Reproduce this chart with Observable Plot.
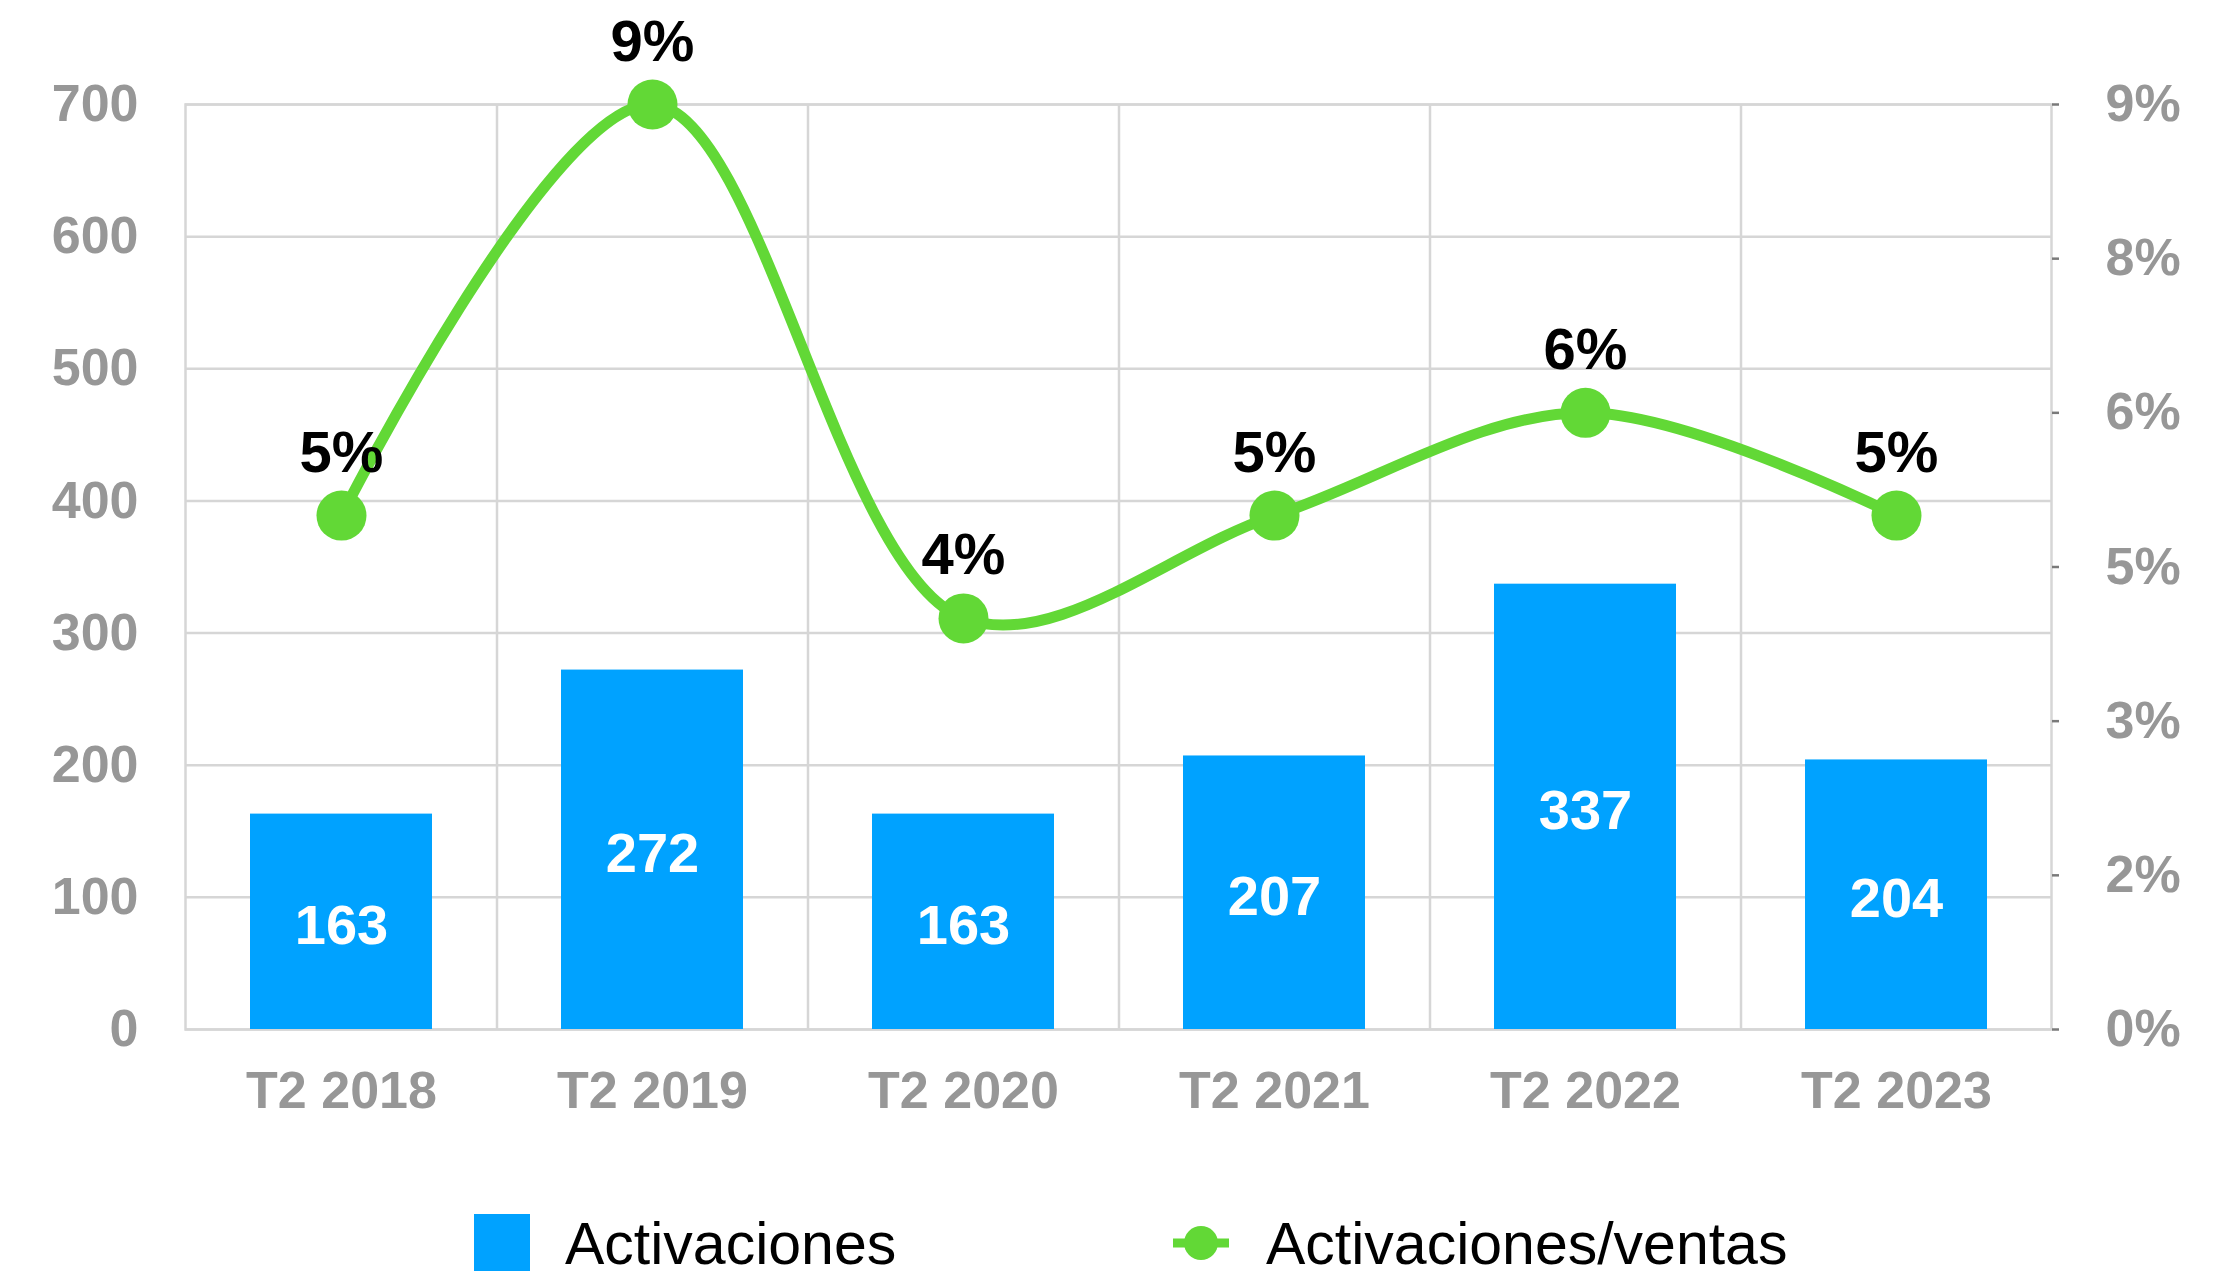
<!DOCTYPE html>
<html>
<head>
<meta charset="utf-8">
<script src="https://cdn.jsdelivr.net/npm/d3@7"></script>
<script src="https://cdn.jsdelivr.net/npm/@observablehq/plot@0.6"></script>
<style>
  html, body { margin: 0; padding: 0; background: #fff; overflow: hidden; }
  body { width: 2240px; height: 1271px; font-family: "Liberation Sans", Arial, Helvetica, sans-serif; position: relative; }
  #legend { position: relative; height: 91px; margin-top: 34px; }
  .item { display: flex; align-items: flex-start; position: absolute; top: 0; }
  .lbl { font-size: 59px; line-height: 59px; color: #000; margin-top: 1px; white-space: nowrap; }
</style>
</head>
<body>
<div id="chart"></div>
<div id="legend"></div>
<script>
// ---- data ----
const categories = ["T2 2018", "T2 2019", "T2 2020", "T2 2021", "T2 2022", "T2 2023"];
const activaciones = [163, 272, 163, 207, 337, 204];
const ratioPct = [5, 9, 4, 5, 6, 5];            // Activaciones/ventas, %
const leftTicks = [0, 100, 200, 300, 400, 500, 600, 700];
const rightTicks = [0, 1.5, 3, 4.5, 6, 7.5, 9]; // % values
const rightTickLabels = ["0%", "2%", "3%", "5%", "6%", "8%", "9%"];
const seriesNames = ["Activaciones", "Activaciones/ventas"];

const leftMax = 700, rightMax = 9;
const toLeft = p => p * leftMax / rightMax;

const BLUE = "#00a2ff", GREEN = "#62d836", GRID = "#d6d6d6", AXIS = "#979797";

const data = categories.map((c, i) => ({cat: c, act: activaciones[i], ratio: ratioPct[i]}));

const W = 2240, H = 1180;
const mL = 185, mR = 189, mT = 104, mB = 151;
const step = (W - mL - mR) / categories.length;

const chart = Plot.plot({
  width: W, height: H,
  marginLeft: mL, marginRight: mR, marginTop: mT, marginBottom: mB,
  style: {fontFamily: '"Liberation Sans", Arial, Helvetica, sans-serif', background: "#fff", overflow: "visible"},
  x: {domain: categories, paddingInner: 0.415, paddingOuter: 0.2075, label: null},
  y: {domain: [0, leftMax], label: null},
  marks: [
    Plot.gridY(leftTicks, {stroke: GRID, strokeOpacity: 1, strokeWidth: 2.5}),
    Plot.ruleX(categories.slice(1), {x: d => d, dx: -step / 2, stroke: GRID, strokeWidth: 2.5}),
    Plot.frame({stroke: GRID, strokeWidth: 2.5}),
    Plot.barY(data, {x: "cat", y: "act", fill: BLUE}),
    Plot.text(data, {x: "cat", y: d => d.act / 2, text: d => String(d.act), fill: "#fff", fontSize: 56, fontWeight: "bold", dy: 4}),
    Plot.line(data, {x: "cat", y: d => toLeft(d.ratio), stroke: GREEN, strokeWidth: 11, curve: "catmull-rom"}),
    Plot.dot(data, {x: "cat", y: d => toLeft(d.ratio), r: 25, fill: GREEN, stroke: "none"}),
    Plot.text(data, {x: "cat", y: d => toLeft(d.ratio), text: d => d.ratio + "%", fill: "#000", fontSize: 58, fontWeight: "bold", lineAnchor: "bottom", dy: -44}),
    Plot.axisX({tickSize: 0, tickPadding: 42, fontSize: 52, fontWeight: "bold", fill: AXIS}),
    Plot.axisY(leftTicks, {anchor: "left", tickSize: 0, tickPadding: 47, fontSize: 52, fontWeight: "bold", fill: AXIS}),
    Plot.axisY(rightTicks.map(toLeft), {anchor: "right", tickSize: 7, tickPadding: 47, stroke: "#7a7a7a", strokeWidth: 2.5,
      tickFormat: (d, i) => rightTickLabels[i], fontSize: 52, fontWeight: "bold", fill: AXIS})
  ]
});
document.getElementById("chart").appendChild(chart);

// ---- legend ----
const legend = document.getElementById("legend");
const first = document.createElement("div");
first.className = "item";
first.style.left = "474px";
first.innerHTML = `
  <div style="width:56px;height:57px;background:${BLUE}"></div>
  <div class="lbl" style="margin-left:35px">${seriesNames[0]}</div>`;
legend.appendChild(first);
const second = document.createElement("div");
second.className = "item";
second.style.left = "1173px";
second.innerHTML = `
  <svg width="56" height="57" style="display:block">
    <line x1="0" x2="56" y1="29" y2="29" stroke="${GREEN}" stroke-width="9"/>
    <circle cx="28" cy="29" r="17" fill="${GREEN}"/>
  </svg>
  <div class="lbl" style="margin-left:37px">${seriesNames[1]}</div>`;
legend.appendChild(second);
</script>
</body>
</html>
